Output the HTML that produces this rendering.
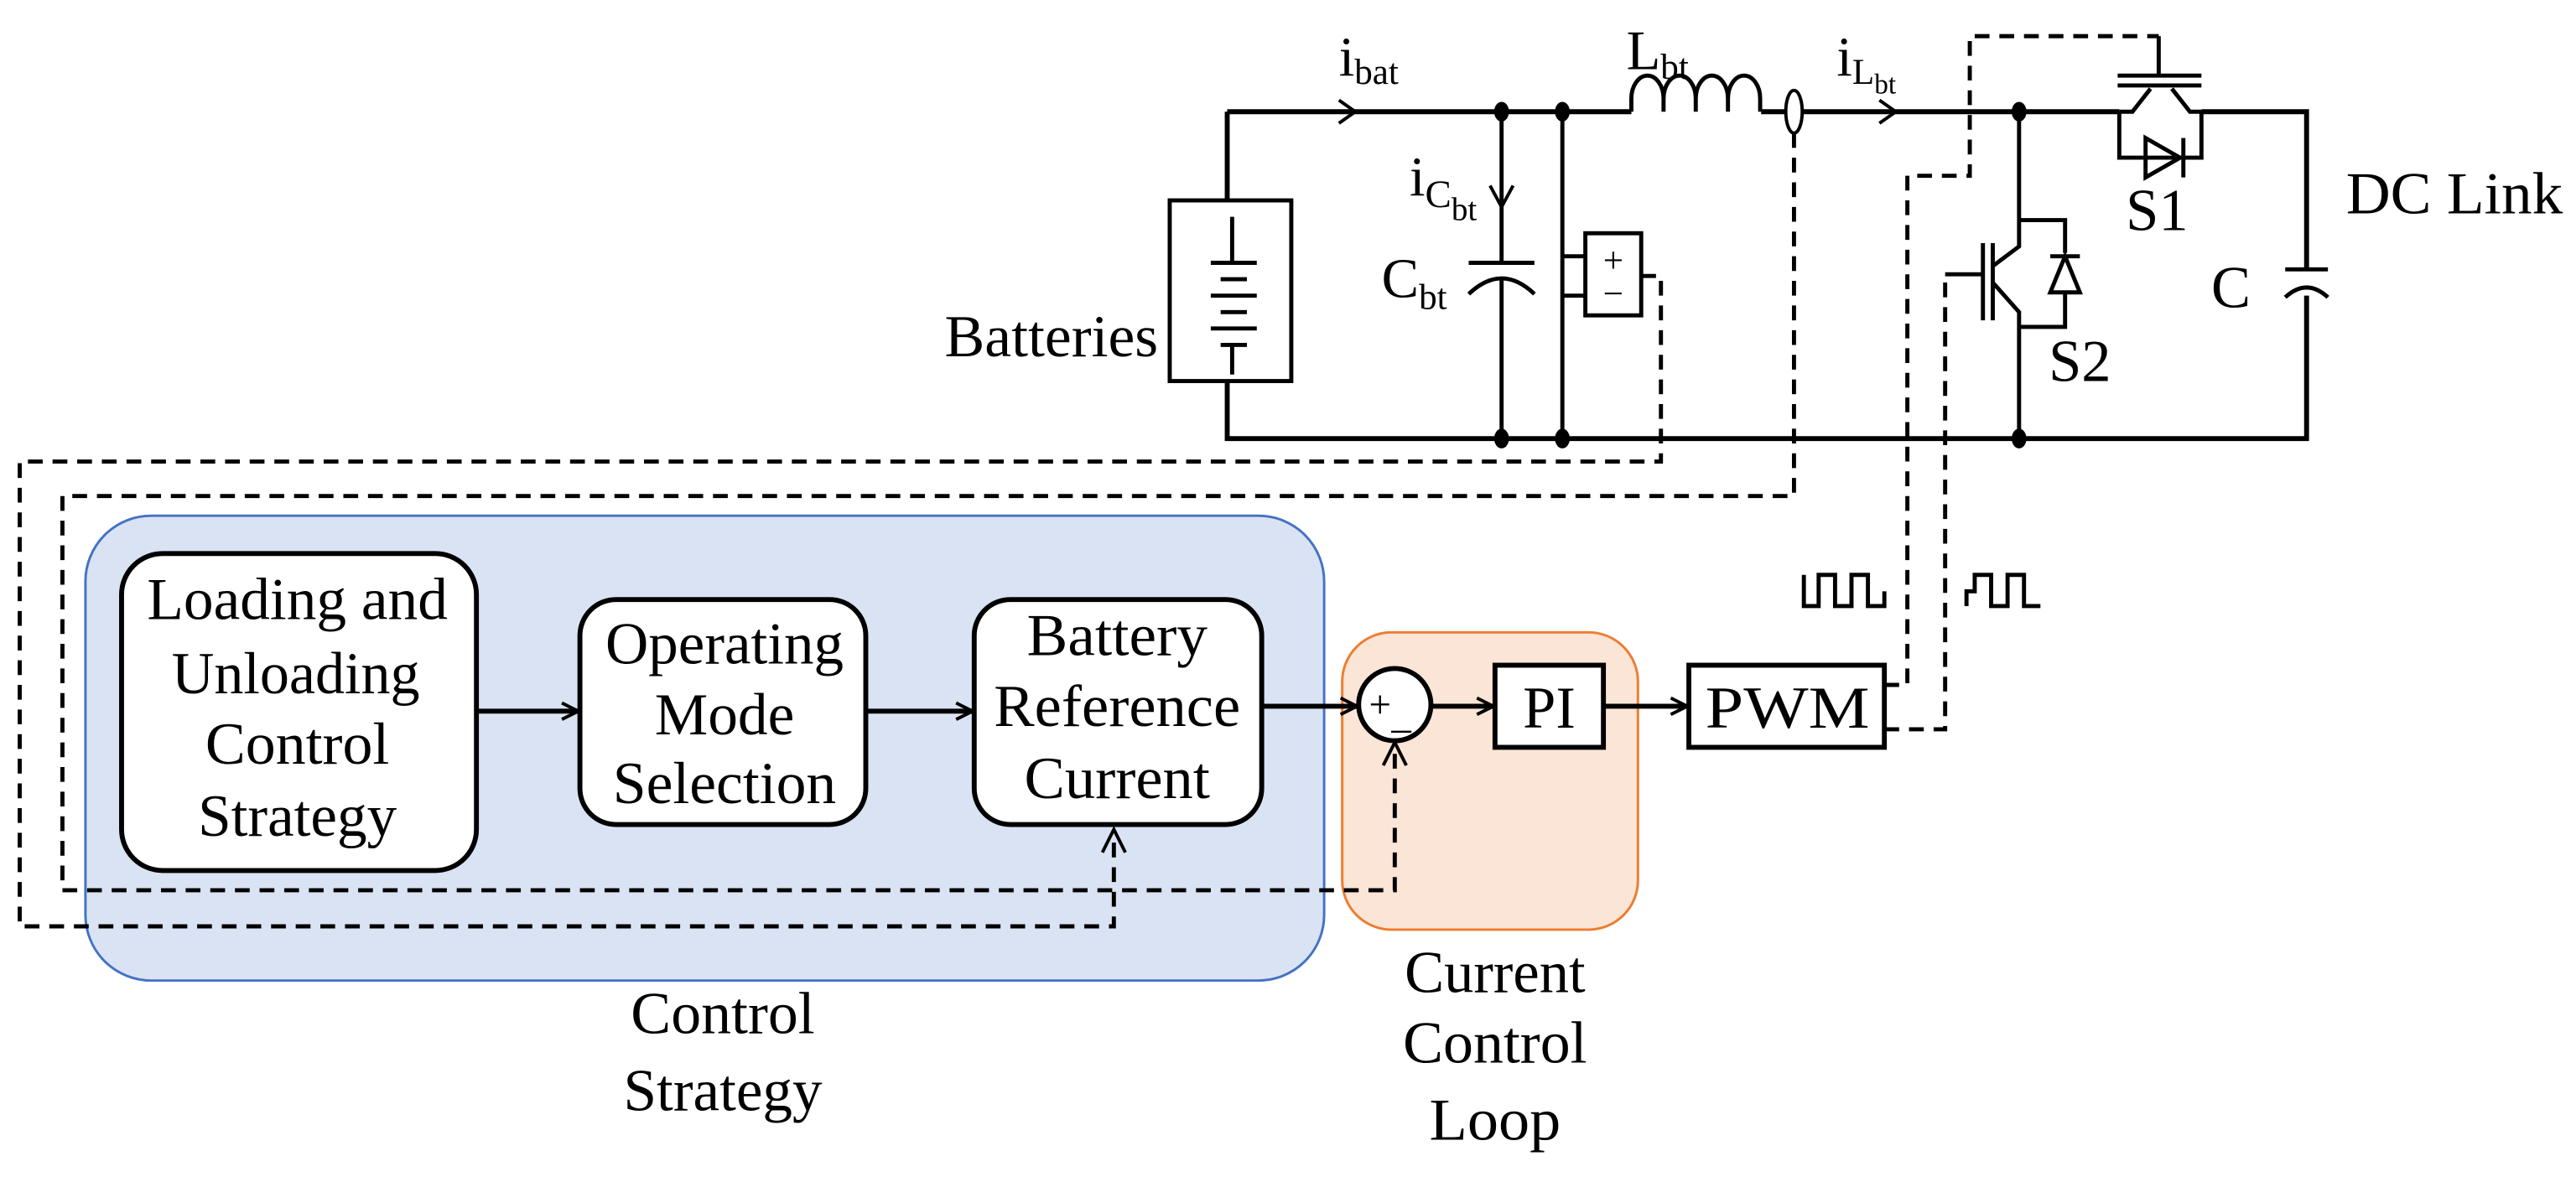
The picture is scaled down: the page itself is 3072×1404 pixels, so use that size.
<!DOCTYPE html>
<html><head><meta charset="utf-8"><style>html,body{margin:0;padding:0;background:#fff}svg{display:block}</style></head>
<body>
<svg width="3072" height="1404" viewBox="0 0 1568 716.6" xmlns="http://www.w3.org/2000/svg" font-family="Liberation Serif, serif">
<defs>
<marker id="ar" viewBox="0 0 12 12" refX="11" refY="6" markerWidth="12" markerHeight="12" markerUnits="userSpaceOnUse" orient="auto"><path d="M1,1 L11,6 L1,11" fill="none" stroke="#000" stroke-width="2"/></marker>
</defs>
<rect x="52" y="314" width="754" height="283" rx="40" fill="#dae3f3" stroke="#4472c4" stroke-width="1.5"/>
<rect x="817" y="385" width="180" height="181" rx="30" fill="#fbe5d6" stroke="#ed7d31" stroke-width="1.5"/>

<g stroke="#000" stroke-width="3" fill="none">
<path d="M747,68 H993 M1072,68 H1087 M1097,68 H1290 M1340,68 H1404 V163"/>
<path d="M1404,180 V267 H747 V232 M747,122 V68"/>
<path d="M993,68 V60 a9.8,14 0 0 1 19.6,0 V68 M1012.6,60 a9.8,14 0 0 1 19.6,0 V68 M1032.2,60 a9.8,14 0 0 1 19.6,0 V68 M1051.8,60 a9.8,14 0 0 1 19.6,0 V68" stroke-width="2.5"/>
<rect x="712" y="122" width="74" height="110" stroke-width="2.5"/>
<path d="M750,132 V160 M737,160 H765 M743,170 H759 M737,180 H765 M743,190 H759 M737,200 H765 M743,210 H759 M750,210 V228" stroke-width="2.5"/>
<path d="M914,68 V160 M894,160 H934 M894,179 Q914,160 934,179 M914,170 V267" stroke-width="2.5"/>
<path d="M951,68 V267 M951,156 H965 M951,180 H965" stroke-width="2.5"/>
<rect x="965" y="142" width="34" height="50" stroke-width="2.5"/>
<ellipse cx="1092" cy="68" rx="5" ry="13" stroke-width="2"/>
<path d="M1229,68 V134 H1257 V154 M1229,134 V150 L1213,162 M1213,172 L1229,190 V199 H1257 V179 M1229,199 V267" stroke-width="2.5"/>
<path d="M1213,148 V195 M1207,148 V195 M1184,167 H1207" stroke-width="2.5"/>
<path d="M1248,156 H1266 M1257,156 L1248,178 H1266 Z" stroke-width="2.5"/>
<path d="M1290,68 H1298 L1309,54 M1322,54 L1333,68 H1340 M1289,52 H1340 M1289,46 H1340 M1314,46 V22" stroke-width="2.5"/>
<path d="M1290,68 V96 H1340 V68 M1306,84 L1327,96 L1306,108 Z M1329,84 V108" stroke-width="2.5"/>
<path d="M1391,164 H1417 M1391,181 Q1404,169 1417,181" stroke-width="2.5"/>
</g>
<g stroke="#000" stroke-width="2" fill="none">
<path d="M815,61 L825,68 L815,75"/>
<path d="M1144,61 L1154,68 L1144,75"/>
<path d="M907,113 L914,126 L921,113"/>
</g>
<g fill="#000">
<ellipse cx="914" cy="68" rx="4.5" ry="6"/><ellipse cx="951" cy="68" rx="4.5" ry="6"/>
<ellipse cx="914" cy="267" rx="4.5" ry="6"/><ellipse cx="951" cy="267" rx="4.5" ry="6"/>
<ellipse cx="1229" cy="68" rx="4.5" ry="6"/><ellipse cx="1229" cy="267" rx="4.5" ry="6"/>
</g>

<g stroke="#000" stroke-width="2.5" fill="none" stroke-dasharray="9,6">
<path d="M999,168 H1011 V281 H12 V564 H678 V508"/>
<path d="M1092,81 V302 H38 V542 H849 V455"/>
<path d="M1147,417 H1161 V107 H1199 V22 H1314"/>
<path d="M1147,444 H1184 V167"/>
</g>
<g stroke="#000" stroke-width="2" fill="none">
<path d="M671,519 L678,505 L685,519"/>
<path d="M842,466 L849,452 L856,466"/>
</g>

<g stroke="#000" stroke-width="2.5" fill="none">
<path d="M1098,350 V369 H1107 V350 H1117 V369 H1127 V350 H1137 V369 H1147 V360"/>
<path d="M1197,369 V360 H1202 V350 H1212 V369 H1222 V350 H1232 V369 H1242"/>
</g>

<g stroke="#000" stroke-width="3" fill="#fff">
<rect x="74" y="337" width="216" height="193" rx="25"/>
<rect x="353" y="365" width="174" height="137" rx="22"/>
<rect x="593" y="365" width="175" height="137" rx="22"/>
<circle cx="849" cy="429" r="22"/>
<rect x="910" y="405" width="66" height="50"/>
<rect x="1028" y="405" width="119" height="50"/>
</g>
<g stroke="#000" stroke-width="3" fill="none" marker-end="url(#ar)">
<path d="M290,433 H352"/>
<path d="M527,433 H592"/>
<path d="M768,430 H826"/>
<path d="M871,430 H909"/>
<path d="M976,430 H1027"/>
</g>

<g font-size="36" fill="#000" text-anchor="middle" lengthAdjust="spacingAndGlyphs">
<text x="181" y="377" textLength="183" lengthAdjust="spacingAndGlyphs">Loading and</text>
<text x="180" y="422" textLength="151" lengthAdjust="spacingAndGlyphs">Unloading</text>
<text x="181" y="465" textLength="112" lengthAdjust="spacingAndGlyphs">Control</text>
<text x="181" y="509" textLength="121" lengthAdjust="spacingAndGlyphs">Strategy</text>
<text x="441" y="404" textLength="145" lengthAdjust="spacingAndGlyphs">Operating</text>
<text x="441" y="447" textLength="85" lengthAdjust="spacingAndGlyphs">Mode</text>
<text x="441" y="489" textLength="136" lengthAdjust="spacingAndGlyphs">Selection</text>
<text x="680" y="399" textLength="110" lengthAdjust="spacingAndGlyphs">Battery</text>
<text x="680" y="442" textLength="150" lengthAdjust="spacingAndGlyphs">Reference</text>
<text x="680" y="486" textLength="113" lengthAdjust="spacingAndGlyphs">Current</text>
<text x="943" y="443">PI</text>
<text x="1088" y="443" textLength="100" lengthAdjust="spacingAndGlyphs">PWM</text>
<text x="440" y="629" textLength="112" lengthAdjust="spacingAndGlyphs">Control</text>
<text x="440" y="676" textLength="121" lengthAdjust="spacingAndGlyphs">Strategy</text>
<text x="910" y="604" textLength="110" lengthAdjust="spacingAndGlyphs">Current</text>
<text x="910" y="647" textLength="112" lengthAdjust="spacingAndGlyphs">Control</text>
<text x="910" y="694" textLength="80" lengthAdjust="spacingAndGlyphs">Loop</text>
<text x="1494" y="130" textLength="132" lengthAdjust="spacingAndGlyphs">DC Link</text>
<text x="1313" y="140">S1</text>
<text x="1266" y="232">S2</text>
<text x="1358" y="187">C</text>
<text x="640" y="217" textLength="130" lengthAdjust="spacingAndGlyphs">Batteries</text>
</g>
<g font-size="24" fill="#000" text-anchor="middle">
<text x="840" y="437">+</text>
<text x="853" y="443">_</text>
<text x="982" y="166" font-size="22">+</text>
<text x="982" y="186" font-size="22">−</text>
</g>
<g font-size="34" fill="#000">
<text x="815" y="46">i<tspan font-size="22" dy="5">bat</tspan></text>
<text x="990" y="42">L<tspan font-size="22" dy="6">bt</tspan></text>
<text x="1118" y="46">i<tspan font-size="22" dy="5">L</tspan><tspan font-size="17" dy="6">bt</tspan></text>
<text x="858" y="119">i<tspan font-size="24" dy="7">C</tspan><tspan font-size="20" dy="8">bt</tspan></text>
<text x="841" y="181">C<tspan font-size="22" dy="7">bt</tspan></text>
</g>
</svg>
</body></html>
